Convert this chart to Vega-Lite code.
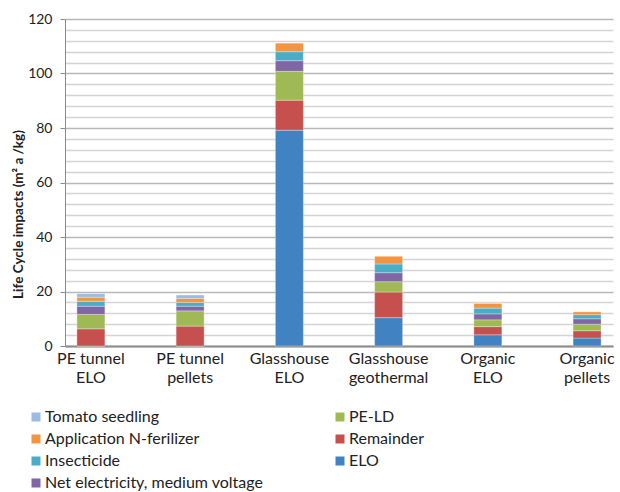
{
  "$schema": "https://vega.github.io/schema/vega-lite/v6.json",
  "autosize": {"type": "none"},
  "padding": {"left": 65, "top": 19, "right": 7, "bottom": 146},
  "width": 548,
  "height": 327,
  "background": "white",
  "config": {"view": {"stroke": null}, "font": "Lato"},
  "data": {"values": [
    {"scenario": "PE tunnel ELO", "component": "ELO", "value": 0},
    {"scenario": "PE tunnel ELO", "component": "Remainder", "value": 6.3},
    {"scenario": "PE tunnel ELO", "component": "PE-LD", "value": 5.3},
    {"scenario": "PE tunnel ELO", "component": "Net electricity, medium voltage", "value": 3.0},
    {"scenario": "PE tunnel ELO", "component": "Insecticide", "value": 1.8},
    {"scenario": "PE tunnel ELO", "component": "Application N-ferilizer", "value": 1.5},
    {"scenario": "PE tunnel ELO", "component": "Tomato seedling", "value": 1.3},
    {"scenario": "PE tunnel pellets", "component": "ELO", "value": 0},
    {"scenario": "PE tunnel pellets", "component": "Remainder", "value": 7.3},
    {"scenario": "PE tunnel pellets", "component": "PE-LD", "value": 5.6},
    {"scenario": "PE tunnel pellets", "component": "Net electricity, medium voltage", "value": 1.7},
    {"scenario": "PE tunnel pellets", "component": "Insecticide", "value": 1.4},
    {"scenario": "PE tunnel pellets", "component": "Application N-ferilizer", "value": 1.5},
    {"scenario": "PE tunnel pellets", "component": "Tomato seedling", "value": 1.2},
    {"scenario": "Glasshouse ELO", "component": "ELO", "value": 79.2},
    {"scenario": "Glasshouse ELO", "component": "Remainder", "value": 11.0},
    {"scenario": "Glasshouse ELO", "component": "PE-LD", "value": 10.6},
    {"scenario": "Glasshouse ELO", "component": "Net electricity, medium voltage", "value": 3.9},
    {"scenario": "Glasshouse ELO", "component": "Insecticide", "value": 3.3},
    {"scenario": "Glasshouse ELO", "component": "Application N-ferilizer", "value": 3.2},
    {"scenario": "Glasshouse ELO", "component": "Tomato seedling", "value": 0},
    {"scenario": "Glasshouse geothermal", "component": "ELO", "value": 10.4},
    {"scenario": "Glasshouse geothermal", "component": "Remainder", "value": 9.4},
    {"scenario": "Glasshouse geothermal", "component": "PE-LD", "value": 3.8},
    {"scenario": "Glasshouse geothermal", "component": "Net electricity, medium voltage", "value": 3.3},
    {"scenario": "Glasshouse geothermal", "component": "Insecticide", "value": 3.2},
    {"scenario": "Glasshouse geothermal", "component": "Application N-ferilizer", "value": 2.9},
    {"scenario": "Glasshouse geothermal", "component": "Tomato seedling", "value": 0},
    {"scenario": "Organic ELO", "component": "ELO", "value": 4.1},
    {"scenario": "Organic ELO", "component": "Remainder", "value": 3.0},
    {"scenario": "Organic ELO", "component": "PE-LD", "value": 2.5},
    {"scenario": "Organic ELO", "component": "Net electricity, medium voltage", "value": 2.2},
    {"scenario": "Organic ELO", "component": "Insecticide", "value": 2.1},
    {"scenario": "Organic ELO", "component": "Application N-ferilizer", "value": 1.8},
    {"scenario": "Organic ELO", "component": "Tomato seedling", "value": 0},
    {"scenario": "Organic pellets", "component": "ELO", "value": 2.9},
    {"scenario": "Organic pellets", "component": "Remainder", "value": 2.7},
    {"scenario": "Organic pellets", "component": "PE-LD", "value": 2.4},
    {"scenario": "Organic pellets", "component": "Net electricity, medium voltage", "value": 2.0},
    {"scenario": "Organic pellets", "component": "Insecticide", "value": 1.5},
    {"scenario": "Organic pellets", "component": "Application N-ferilizer", "value": 1.1},
    {"scenario": "Organic pellets", "component": "Tomato seedling", "value": 0}
  ]},
  "transform": [
    {"calculate": "indexof(['ELO','Remainder','PE-LD','Net electricity, medium voltage','Insecticide','Application N-ferilizer','Tomato seedling'], datum.component)", "as": "rank"}
  ],
  "mark": {"type": "bar", "stroke": "#ffffff", "strokeWidth": 0.6, "strokeOpacity": 0.5},
  "encoding": {
    "x": {
      "field": "scenario", "type": "nominal", "sort": null,
      "scale": {"paddingInner": 0.718, "paddingOuter": 0.12},
      "axis": {
        "title": null, "labelAngle": 0, "labelFontSize": 16, "labelColor": "#222222",
        "labelFont": "Lato", "ticks": false, "labelPadding": 4, "labelLineHeight": 19,
        "domainColor": "#8c8c8c", "domainWidth": 2,
        "labelExpr": "[slice(datum.label, 0, lastindexof(datum.label, ' ')), slice(datum.label, lastindexof(datum.label, ' ') + 1)]"
      }
    },
    "y": {
      "field": "value", "type": "quantitative", "stack": "zero",
      "scale": {"domain": [0, 120], "nice": false},
      "axis": {
        "title": "Life Cycle impacts (m² a /kg)",
        "titleFontSize": 13.5, "titleFontWeight": "bold", "titleColor": "#222222", "titleFont": "Lato",
        "titleAngle": -90, "titleX": -47, "titleY": 195, "titleAlign": "center", "titleBaseline": "middle",
        "values": [0,4,8,12,16,20,24,28,32,36,40,44,48,52,56,60,64,68,72,76,80,84,88,92,96,100,104,108,112,116,120],
        "labelExpr": "datum.value % 20 === 0 ? datum.label : ''",
        "labelFontSize": 14, "labelColor": "#222222", "labelPadding": 8,
        "tickSize": 5, "tickColor": "#8c8c8c",
        "tickOpacity": {"condition": {"test": "datum.value % 20 === 0", "value": 1}, "value": 0},
        "domainColor": "#8c8c8c",
        "grid": true,
        "gridColor": {"condition": {"test": "datum.value % 20 === 0", "value": "#b8b8b8"}, "value": "#d4d4d4"},
        "gridWidth": 1.3
      }
    },
    "color": {
      "field": "component", "type": "nominal",
      "scale": {
        "domain": ["Tomato seedling", "Application N-ferilizer", "Insecticide", "Net electricity, medium voltage", "PE-LD", "Remainder", "ELO"],
        "range": ["#9BBBE0", "#F39442", "#4BACC6", "#8066A4", "#9FBA55", "#C6504D", "#4182C3"]
      },
      "legend": {
        "title": null, "orient": "none", "legendX": -37, "legendY": 390,
        "columns": 2, "columnPadding": 68, "rowPadding": 6,
        "symbolType": "square", "symbolSize": 81, "symbolStrokeWidth": 0,
        "labelFontSize": 16, "labelColor": "#222222", "labelFont": "Lato", "labelOffset": 1, "labelLimit": 400
      }
    },
    "order": {"field": "rank", "type": "quantitative", "sort": "ascending"}
  }
}
